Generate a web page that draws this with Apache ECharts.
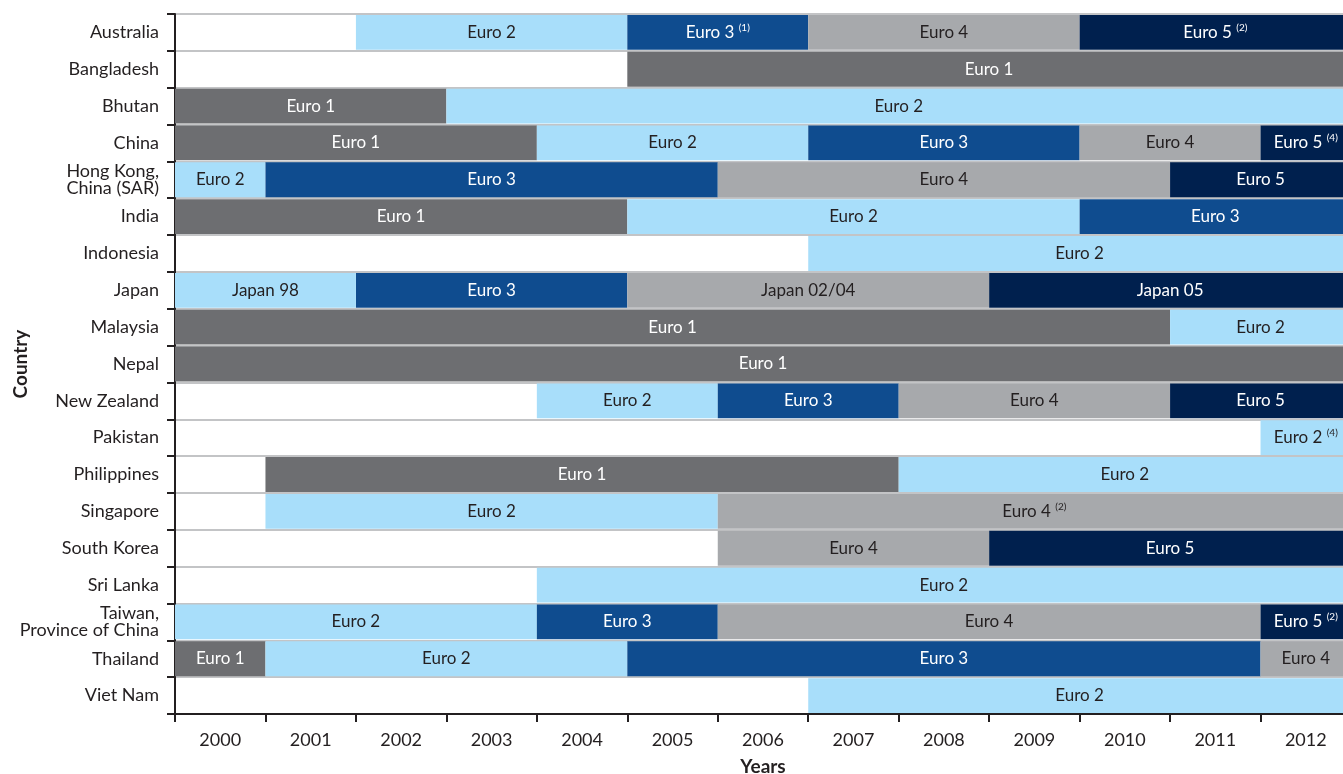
<!DOCTYPE html>
<html>
<head>
<meta charset="utf-8">
<script src="https://cdn.jsdelivr.net/npm/echarts@6/dist/echarts.min.js"></script>
<style>
  html, body { margin: 0; padding: 0; background: #fff; }
  #chart { width: 1343px; height: 774px; }
</style>
</head>
<body>
<div id="chart"></div>
<script>
// Vehicle emission standards in force, by country and year
const countries = [
  'Australia', 'Bangladesh', 'Bhutan', 'China', 'Hong Kong,\nChina (SAR)', 'India',
  'Indonesia', 'Japan', 'Malaysia', 'Nepal', 'New Zealand', 'Pakistan', 'Philippines',
  'Singapore', 'South Korea', 'Sri Lanka', 'Taiwan,\nProvince of China', 'Thailand', 'Viet Nam'
];
const years = ['2000', '2001', '2002', '2003', '2004', '2005', '2006', '2007', '2008', '2009', '2010', '2011', '2012'];
const firstYear = 2000;
const lastYear = 2013;

// [country, from year, to year, footnote]
const euro1 = [
  ['Bangladesh', 2005, 2013], ['Bhutan', 2000, 2003], ['China', 2000, 2004],
  ['India', 2000, 2005], ['Malaysia', 2000, 2011], ['Nepal', 2000, 2013],
  ['Philippines', 2001, 2008], ['Thailand', 2000, 2001]
];
const euro2 = [
  ['Australia', 2002, 2005], ['Bhutan', 2003, 2013], ['China', 2004, 2007],
  ['Hong Kong,\nChina (SAR)', 2000, 2001], ['India', 2005, 2010], ['Indonesia', 2007, 2013],
  ['Malaysia', 2011, 2013], ['New Zealand', 2004, 2006], ['Pakistan', 2012, 2013, '(4)'],
  ['Philippines', 2008, 2013], ['Singapore', 2001, 2006], ['Sri Lanka', 2004, 2013],
  ['Taiwan,\nProvince of China', 2000, 2004], ['Thailand', 2001, 2005], ['Viet Nam', 2007, 2013]
];
const euro3 = [
  ['Australia', 2005, 2007, '(1)'], ['China', 2007, 2010], ['Hong Kong,\nChina (SAR)', 2001, 2006],
  ['India', 2010, 2013], ['Japan', 2002, 2005], ['New Zealand', 2006, 2008],
  ['Taiwan,\nProvince of China', 2004, 2006], ['Thailand', 2005, 2012]
];
const euro4 = [
  ['Australia', 2007, 2010], ['China', 2010, 2012], ['Hong Kong,\nChina (SAR)', 2006, 2011],
  ['New Zealand', 2008, 2011], ['Singapore', 2006, 2013, '(2)'], ['South Korea', 2006, 2009],
  ['Taiwan,\nProvince of China', 2006, 2012], ['Thailand', 2012, 2013]
];
const euro5 = [
  ['Australia', 2010, 2013, '(2)'], ['China', 2012, 2013, '(4)'], ['Hong Kong,\nChina (SAR)', 2011, 2013],
  ['New Zealand', 2011, 2013], ['South Korea', 2009, 2013], ['Taiwan,\nProvince of China', 2012, 2013, '(2)']
];
const japan98 = [['Japan', 2000, 2002]];
const japan0204 = [['Japan', 2005, 2009]];
const japan05 = [['Japan', 2009, 2013]];

const standards = [
  { name: 'Euro 1', rows: euro1, fill: '#6d6e71', text: '#ffffff' },
  { name: 'Euro 2', rows: euro2, fill: '#a8defa', text: '#231f20' },
  { name: 'Euro 3', rows: euro3, fill: '#0f4c8f', text: '#ffffff' },
  { name: 'Euro 4', rows: euro4, fill: '#a7a9ac', text: '#231f20' },
  { name: 'Euro 5', rows: euro5, fill: '#00204e', text: '#ffffff' },
  { name: 'Japan 98', rows: japan98, fill: '#a8defa', text: '#231f20' },
  { name: 'Japan 02/04', rows: japan0204, fill: '#a7a9ac', text: '#231f20' },
  { name: 'Japan 05', rows: japan05, fill: '#00204e', text: '#ffffff' }
];

const FONT = 'Lato, "Open Sans", sans-serif';
const INK = '#231f20';

function makeSeries(std) {
  return {
    type: 'custom',
    name: std.name,
    xAxisIndex: 0,
    yAxisIndex: 0,
    encode: { x: [0, 1], y: 2 },
    data: std.rows.map(r => ({ value: [r[1], r[2], countries.indexOf(r[0])] })),
    renderItem: function (params, api) {
      const row = std.rows[params.dataIndex];
      const note = row[3];
      const c = api.value(2);
      const p0 = api.coord([api.value(0), c]);
      const p1 = api.coord([api.value(1), c]);
      const h = api.size([0, 1])[1];
      return {
        type: 'rect',
        shape: { x: p0[0], y: p0[1] - h / 2 + 1, width: p1[0] - p0[0], height: h - 2 },
        style: { fill: std.fill },
        textContent: {
          style: {
            text: note ? std.name + ' {s|' + note + '}' : std.name,
            fill: std.text,
            fontFamily: FONT,
            fontSize: 17,
            lineHeight: 20,
            rich: {
              s: { fontFamily: FONT, fontSize: 10, fill: std.text, verticalAlign: 'top', lineHeight: 20, padding: [0, 0, 8, 0] }
            }
          }
        },
        textConfig: { position: 'inside' }
      };
    }
  };
}

const chart = echarts.init(document.getElementById('chart'), null, { renderer: 'canvas' });
chart.setOption({
  animation: false,
  backgroundColor: '#ffffff',
  grid: { left: 175, right: -8, top: 14, bottom: 60, containLabel: false, outerBoundsMode: 'none' },
  xAxis: [
    {
      type: 'value', min: firstYear, max: lastYear, interval: 1, show: false
    },
    {
      type: 'category',
      data: years,
      position: 'bottom',
      boundaryGap: true,
      name: 'Years',
      nameLocation: 'middle',
      nameGap: 43,
      nameMoveOverlap: false,
      nameTextStyle: { fontFamily: FONT, fontSize: 19, fontWeight: 'bold', color: INK },
      axisLine: { lineStyle: { color: INK, width: 2 } },
      axisTick: { show: true, length: 8, lineStyle: { color: INK, width: 2 } },
      axisLabel: { fontFamily: FONT, fontSize: 18, color: INK, margin: 17 },
      splitLine: { show: false }
    }
  ],
  yAxis: {
    type: 'category',
    data: countries,
    inverse: true,
    boundaryGap: true,
    name: 'Country',
    nameLocation: 'middle',
    nameRotate: 90,
    nameGap: 145,
    nameMoveOverlap: false,
    nameTextStyle: { fontFamily: FONT, fontSize: 19, fontWeight: 'bold', color: INK },
    axisLine: { lineStyle: { color: INK, width: 2 } },
    axisTick: { show: true, length: 8, lineStyle: { color: INK, width: 2 } },
    axisLabel: { fontFamily: FONT, fontSize: 18, color: INK, margin: 16, lineHeight: 17 },
    splitLine: { show: true, interval: 0, lineStyle: { color: '#c3c4c6', width: 2 } }
  },
  series: standards.map(makeSeries)
});
</script>
</body>
</html>
